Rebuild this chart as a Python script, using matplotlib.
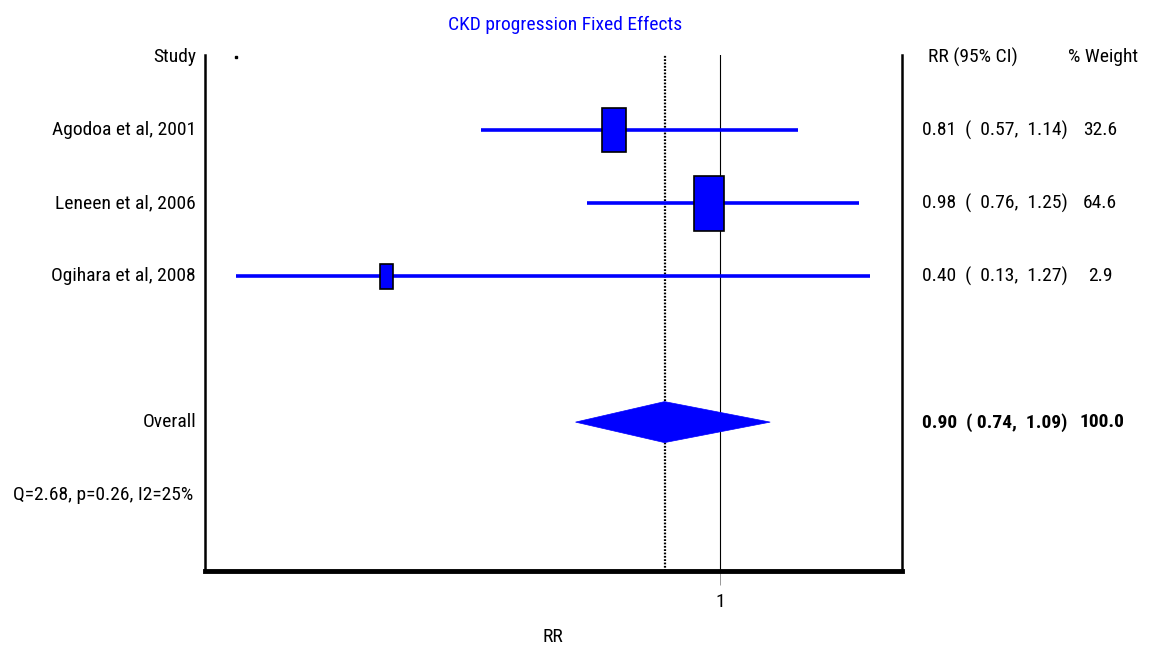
import numpy as np
import matplotlib
matplotlib.use("Agg")
import matplotlib.pyplot as plt
from matplotlib import font_manager
from matplotlib.patches import Rectangle, Polygon
from matplotlib.transforms import blended_transform_factory

studies = ["Agodoa et al, 2001", "Leneen et al, 2006", "Ogihara et al, 2008"]
rr = [0.81, 0.98, 0.40]
ci_low = [0.57, 0.76, 0.13]
ci_high = [1.14, 1.25, 1.27]
weights = [32.6, 64.6, 2.9]

overall_rr = 0.90
overall_low = 0.74
overall_high = 1.09
overall_weight = 100.0
het_text = "Q=2.68, p=0.26, I2=25%"

BLUE = "#0000ff"

# pick a condensed face if one is installed
installed = {f.name for f in font_manager.fontManager.ttflist}
narrow = [n for n in ["Liberation Sans Narrow", "Roboto Condensed",
                      "DejaVu Sans Condensed", "Open Sans Condensed"] if n in installed]
if narrow:
    FONT = [narrow[0], "DejaVu Sans"]
    FS = 14
else:
    FONT = ["Liberation Sans", "DejaVu Sans"]
    FS = 12.3
plt.rcParams["font.family"] = FONT

W, H, DPI = 1153, 654, 100
fig = plt.figure(figsize=(W / DPI, H / DPI), dpi=DPI)
ax = fig.add_axes([205 / W, 1 - 571 / H, 697 / W, 516 / H])
ax.set_xlim(0.0737, 1.327)
ax.set_ylim(7.04, -0.03)

# pixels per data unit, used to size the boxes in screen space
px_x = 697 / (1.327 - 0.0737)
px_y = 516 / (7.04 + 0.03)

rows = np.arange(1, len(studies) + 1)
overall_row = len(studies) + 2
het_row = overall_row + 1

# reference lines: null effect and pooled estimate
ax.axvline(1.0, color="black", lw=0.8, zorder=1)
ax.axvline(overall_rr, color="black", lw=1.6, ls=(0, (0.8, 0.7)), zorder=1)

for y, m, lo, hi, w in zip(rows, rr, ci_low, ci_high, weights):
    ax.plot([lo, hi], [y, y], color=BLUE, lw=2.6, solid_capstyle="butt", zorder=2)
    bw = (9.4 + 2.56 * np.sqrt(w)) / px_x
    bh = (17.2 + 4.7 * np.sqrt(w)) / px_y
    ax.add_patch(Rectangle((m - bw / 2, y - bh / 2), bw, bh, facecolor=BLUE,
                           edgecolor="black", lw=1.2, zorder=3))

dh = 20.5 / px_y
ax.add_patch(Polygon([[overall_low, overall_row], [overall_rr, overall_row - dh],
                      [overall_high, overall_row], [overall_rr, overall_row + dh]],
                     closed=True, facecolor=BLUE, edgecolor=BLUE, lw=0.5, zorder=3))

ax.plot([min(ci_low)], [0], marker="s", ms=1.5, color="black", zorder=3)

ax.spines["top"].set_visible(False)
ax.spines["left"].set_linewidth(1.8)
ax.spines["right"].set_linewidth(1.8)
ax.spines["bottom"].set_linewidth(3.5)
ax.set_yticks([])
ax.set_xticks([1.0])
ax.set_xticklabels(["1"], fontsize=FS)
ax.tick_params(axis="x", length=10, width=0.6, color="#888888", pad=6)
ax.set_xlabel("RR", fontsize=FS)
ax.xaxis.set_label_coords((553 - 205) / 697, -(637 - 571) / 516)
ax.xaxis.label.set_va("center")

# left column: study names
tl = blended_transform_factory(fig.transFigure, ax.transData)
left_x = 196 / W
ax.text(left_x, 0, "Study", transform=tl, ha="right", va="center", fontsize=FS)
for y, s in zip(rows, studies):
    ax.text(left_x, y, s, transform=tl, ha="right", va="center", fontsize=FS)
ax.text(left_x, overall_row, "Overall", transform=tl, ha="right", va="center", fontsize=FS)
ax.text(193 / W, het_row, het_text, transform=tl, ha="right", va="center", fontsize=FS)

# right columns: estimates and weights
ci_x = 922 / W
wt_x = 1100 / W
fmt = "{:.2f}  (  {:.2f},  {:.2f})"
fmt_bold = "{:.2f}  ( {:.2f},  {:.2f})"
ax.text(928 / W, 0, "RR (95% CI)", transform=tl, ha="left", va="center", fontsize=FS)
ax.text(1103 / W, 0, "% Weight", transform=tl, ha="center", va="center", fontsize=FS)
for y, m, lo, hi, w in zip(rows, rr, ci_low, ci_high, weights):
    ax.text(ci_x, y, fmt.format(m, lo, hi), transform=tl,
            ha="left", va="center", fontsize=FS)
    ax.text(wt_x, y, f"{w:.1f}", transform=tl, ha="center", va="center", fontsize=FS)
ax.text(ci_x, overall_row, fmt_bold.format(overall_rr, overall_low, overall_high),
        transform=tl, ha="left", va="center", fontsize=FS, fontweight="bold")
ax.text(wt_x + 2 / W, overall_row, f"{overall_weight:.1f}", transform=tl,
        ha="center", va="center", fontsize=FS, fontweight="bold")

fig.text(565 / W, 1 - 25 / H, "CKD progression Fixed Effects", color=BLUE,
         ha="center", va="center", fontsize=FS)

fig.savefig("out.png", dpi=DPI)
